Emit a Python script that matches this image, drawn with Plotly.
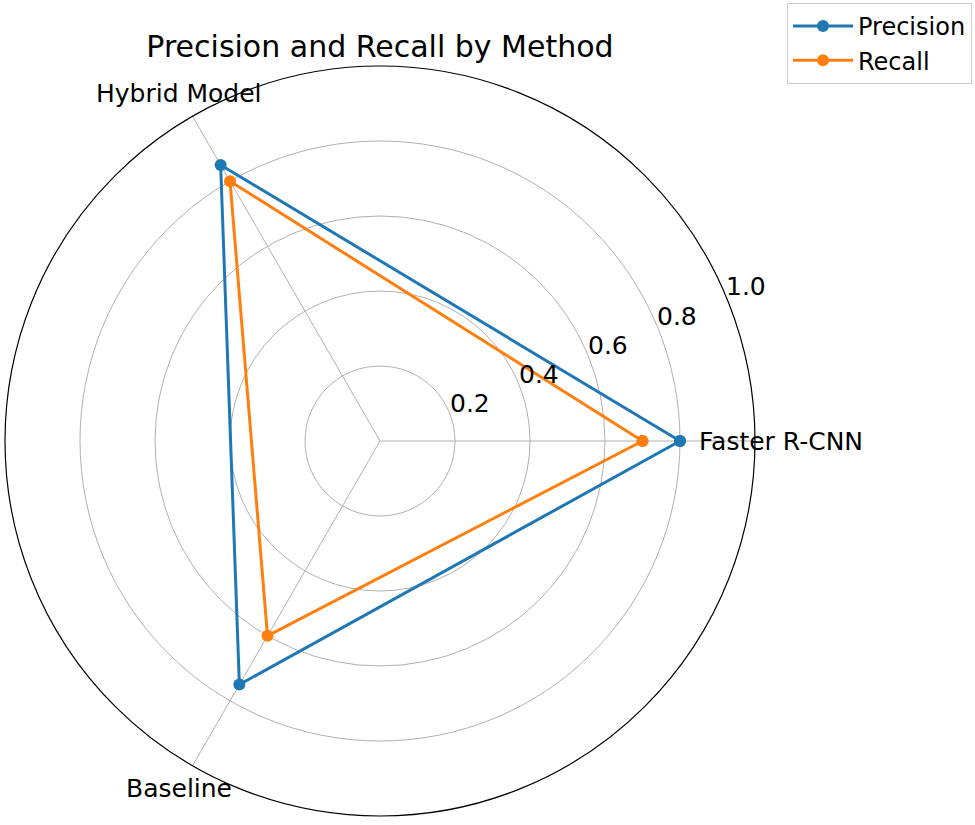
import math
import plotly.graph_objects as go

categories = ["Faster R-CNN", "Hybrid Model", "Baseline"]
angles = [0, 120, 240]
precision = [0.80, 0.85, 0.75]
recall = [0.70, 0.80, 0.60]
radial_ticks = [0.2, 0.4, 0.6, 0.8, 1.0]
tick_labels = ["0.2", "0.4", "0.6", "0.8", "1.0"]

FONT = "DejaVu Sans"
W, H = 975, 825
cx, cy, R = 380, 441, 375  # polar centre and radius in pixels

fig = go.Figure()
for name, vals, color in [("Precision", precision, "#1f77b4"), ("Recall", recall, "#ff7f0e")]:
    fig.add_trace(go.Scatterpolar(
        r=vals + vals[:1],
        theta=angles + angles[:1],
        mode="lines+markers",
        name=name,
        line=dict(color=color, width=3),
        marker=dict(color=color, size=12),
    ))


def polar_to_paper(r, theta_deg):
    t = math.radians(theta_deg)
    return (cx + R * r * math.cos(t)) / W, 1 - (cy - R * r * math.sin(t)) / H


annotations = []
# angular category labels, centred just outside the rim (matplotlib style)
for cat, ang in zip(categories, angles):
    x, y = polar_to_paper(1.07, ang)
    annotations.append(dict(x=x, y=y, xref="paper", yref="paper", text=cat,
                            showarrow=False, xanchor="center", yanchor="middle",
                            font=dict(family=FONT, size=25, color="black")))
# radial tick labels along 22.5 degrees, shifted slightly outward
for tv, tl in zip(radial_ticks, tick_labels):
    x, y = polar_to_paper(tv + 0.06, 22.8)
    annotations.append(dict(x=x, y=y, xref="paper", yref="paper", text=tl,
                            showarrow=False, xanchor="center", yanchor="middle",
                            font=dict(family=FONT, size=25, color="black")))

fig.update_layout(
    width=W, height=H,
    margin=dict(l=0, r=0, t=0, b=0),
    paper_bgcolor="white",
    font=dict(family=FONT, size=25, color="black"),
    title=dict(text="Precision and Recall by Method", x=cx / W, xanchor="center",
               y=1 - 46 / H, yanchor="middle", font=dict(size=30)),
    legend=dict(x=1 - 3 / W, xanchor="right", y=1 - 3 / H, yanchor="top",
                bordercolor="#cccccc", borderwidth=1, font=dict(size=24),
                bgcolor="white", itemwidth=60),
    annotations=annotations,
    polar=dict(
        domain=dict(x=[(cx - R) / W, (cx + R) / W], y=[1 - (cy + R) / H, 1 - (cy - R) / H]),
        bgcolor="white",
        radialaxis=dict(range=[0, 1], tickvals=radial_ticks, showticklabels=False,
                        angle=22.5, showline=False, ticks="", gridcolor="#b0b0b0",
                        gridwidth=1),
        angularaxis=dict(tickmode="array", tickvals=angles, showticklabels=False,
                         rotation=0, direction="counterclockwise", showline=True,
                         linecolor="black", linewidth=1.2, gridcolor="#b0b0b0",
                         ticks=""),
    ),
)
fig.write_html("out.html", config={"displayModeBar": False},
               post_script="document.body.style.margin='0';")
